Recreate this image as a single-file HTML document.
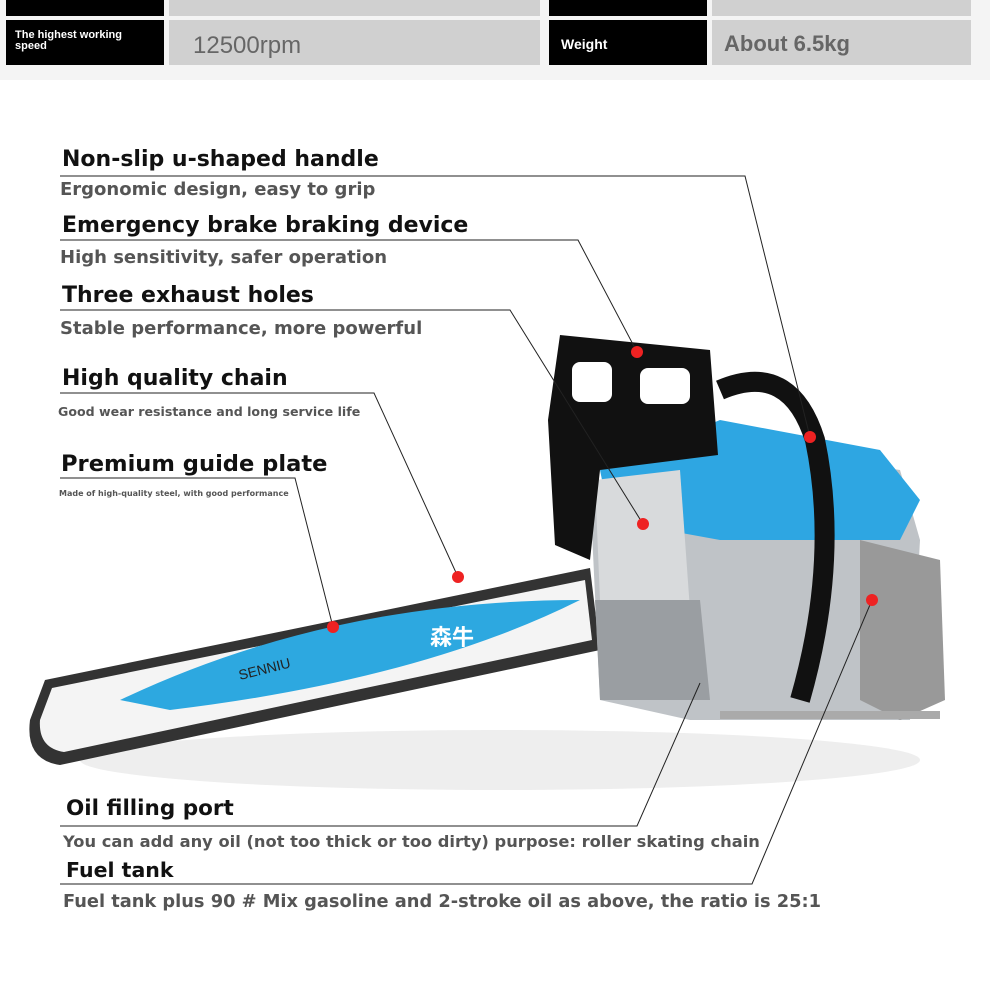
<!DOCTYPE html>
<html><head><meta charset="utf-8"><style>
body{margin:0;width:990px;height:1002px;background:#fff;position:relative;overflow:hidden;font-family:"Liberation Sans","Noto Sans CJK SC",sans-serif}
.a{position:absolute}
.bk{background:#000;color:#fff;font-weight:bold}
.gr{background:#d0d0d0;color:#666}
.t{position:absolute;font-weight:bold;color:#111;font-size:22px;left:62px;font-family:"DejaVu Sans",sans-serif;white-space:nowrap}
.s{position:absolute;font-weight:bold;color:#555;font-size:18px;left:60px;font-family:"DejaVu Sans",sans-serif;white-space:nowrap}
</style></head><body>
<div class="a" style="left:0;top:0;width:990px;height:80px;background:#f4f4f4"></div>
<div class="a bk" style="left:6px;top:-30px;width:158px;height:46px"></div>
<div class="a gr" style="left:169px;top:-30px;width:371px;height:46px"></div>
<div class="a bk" style="left:549px;top:-30px;width:158px;height:46px"></div>
<div class="a gr" style="left:712px;top:-30px;width:259px;height:46px"></div>
<div class="a bk" style="left:6px;top:20px;width:158px;height:45px;font-size:11px;line-height:11px;padding:10px 0 0 9px;box-sizing:border-box">The highest working<br>speed</div>
<div class="a gr" style="left:169px;top:20px;width:371px;height:45px;font-size:24px;line-height:52px;padding-left:24px;box-sizing:border-box">12500rpm</div>
<div class="a bk" style="left:549px;top:20px;width:158px;height:45px;font-size:14px;line-height:48px;padding-left:12px;box-sizing:border-box">Weight</div>
<div class="a gr" style="left:712px;top:20px;width:259px;height:45px;font-size:22px;line-height:48px;padding-left:12px;box-sizing:border-box;font-weight:bold">About 6.5kg</div>

<svg class="a" style="left:0;top:0" width="990" height="1002">
<ellipse cx="500" cy="760" rx="420" ry="30" fill="#eee"/>
<path d="M45,680 L590,568 L600,650 L60,765 Q25,760 30,720 Z" fill="#333"/>
<path d="M52,688 L585,580 L592,640 L64,752 Q38,748 40,720 Z" fill="#f4f4f4"/>
<path d="M120,700 Q330,600 580,600 Q420,680 170,710 Z" fill="#2da8e0"/>
<text x="240" y="680" font-size="14" fill="#222" transform="rotate(-14 240 680)">SENNIU</text>
<text x="430" y="645" font-size="22" fill="#fff" font-weight="bold">森牛</text>
<path d="M590,490 L700,440 L900,470 L920,540 L910,720 L690,720 L600,700 Z" fill="#bfc3c7"/>
<path d="M600,470 L720,420 L880,450 L920,500 L900,540 L720,540 L610,520 Z" fill="#2ea6e2"/>
<path d="M595,480 L680,470 L690,610 L600,600 Z" fill="#d8dadc"/>
<path d="M595,600 L700,600 L710,700 L600,700 Z" fill="#9a9ea2"/>
<path d="M860,540 L940,560 L945,700 L900,720 L860,700 Z" fill="#999"/>
<path d="M560,335 L710,350 L718,455 L600,470 L590,560 L555,545 L548,420 Z" fill="#111"/>
<rect x="572" y="362" width="40" height="40" rx="8" fill="#fff"/>
<rect x="640" y="368" width="50" height="36" rx="8" fill="#fff"/>
<path d="M720,390 Q790,360 815,440 Q840,560 800,700" stroke="#111" stroke-width="20" fill="none"/>
<path d="M720,715 L940,715" stroke="#aaa" stroke-width="8"/>
<g fill="none" stroke="#222" stroke-width="1">
<polyline points="60,176 745,176 810,437"/>
<polyline points="60,240 578,240 637,352"/>
<polyline points="60,310 510,310 643,524"/>
<polyline points="60,393 374,393 458,577"/>
<polyline points="60,478 295,478 333,627"/>
<polyline points="60,826 637,826 700,683"/>
<polyline points="60,884 752,884 872,600"/>
</g>
<g fill="#e22">
<circle cx="810" cy="437" r="6"/><circle cx="637" cy="352" r="6"/><circle cx="643" cy="524" r="6"/>
<circle cx="458" cy="577" r="6"/><circle cx="333" cy="627" r="6"/><circle cx="872" cy="600" r="6"/>
</g>
</svg>

<div class="t" style="top:147px">Non-slip u-shaped handle</div>
<div class="s" style="top:179px">Ergonomic design, easy to grip</div>
<div class="t" style="top:213px">Emergency brake braking device</div>
<div class="s" style="top:247px">High sensitivity, safer operation</div>
<div class="t" style="top:283px">Three exhaust holes</div>
<div class="s" style="top:318px">Stable performance, more powerful</div>
<div class="t" style="top:366px">High quality chain</div>
<div class="s" style="top:404px;font-size:12.6px;left:58px">Good wear resistance and long service life</div>
<div class="t" style="top:451px;left:61px;font-size:22.6px">Premium guide plate</div>
<div class="s" style="top:489px;font-size:8px;left:59px">Made of high-quality steel, with good performance</div>
<div class="t" style="top:796px;left:66px;font-size:21.5px">Oil filling port</div>
<div class="s" style="top:832px;left:63px;font-size:16.3px">You can add any oil (not too thick or too dirty) purpose: roller skating chain</div>
<div class="t" style="top:858px;left:66px;font-size:20.5px">Fuel tank</div>
<div class="s" style="top:891px;left:63px;font-size:17.8px">Fuel tank plus 90 # Mix gasoline and 2-stroke oil as above, the ratio is 25:1</div>
</body></html>
